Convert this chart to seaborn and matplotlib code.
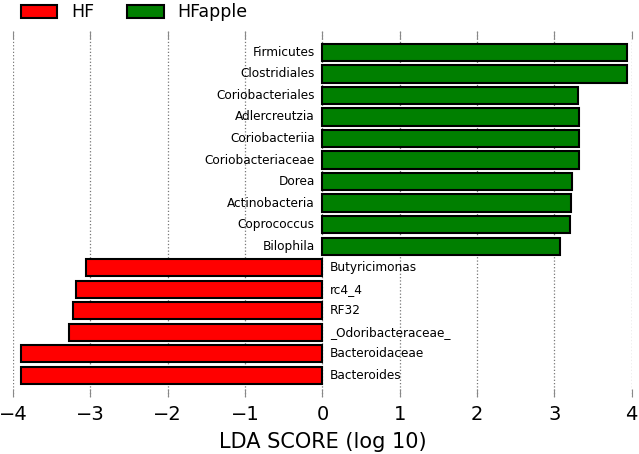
import matplotlib
matplotlib.use('Agg')
from matplotlib import pyplot as plt
from matplotlib.patches import Patch
import seaborn as sns
import pandas as pd

# LEfSe LDA scores, top to bottom
features = ['Firmicutes', 'Clostridiales', 'Coriobacteriales', 'Adlercreutzia',
            'Coriobacteriia', 'Coriobacteriaceae', 'Dorea', 'Actinobacteria',
            'Coprococcus', 'Bilophila', 'Butyricimonas', 'rc4_4', 'RF32',
            '_Odoribacteraceae_', 'Bacteroidaceae', 'Bacteroides']
lda_scores = [3.94, 3.94, 3.31, 3.32, 3.32, 3.32, 3.23, 3.21,
              3.20, 3.07, -3.06, -3.19, -3.22, -3.28, -3.90, -3.90]
groups = ['HFapple'] * 10 + ['HF'] * 6
group_colors = {'HF': '#ff0000', 'HFapple': '#007f00'}

df = pd.DataFrame({'feature': features, 'lda': lda_scores, 'group': groups})

sns.set_style('white', {'text.color': 'black', 'xtick.color': 'black',
                        'axes.labelcolor': 'black'})
plt.rcParams['font.family'] = ['DejaVu Sans']

fig = plt.figure(figsize=(6.39, 4.54), dpi=100)
ax = fig.add_axes([0.0205, 0.126, 0.968, 0.806])

sns.barplot(data=df, x='lda', y='feature', hue='group', palette=group_colors,
            dodge=False, orient='h', width=0.8, edgecolor='black', linewidth=1.5,
            saturation=1, legend=False, ax=ax, zorder=3)

for i, (name, val) in enumerate(zip(features, lda_scores)):
    if val > 0:
        ax.text(-0.1, i, name, ha='right', va='center', fontsize=8.7, color='black')
    else:
        ax.text(0.1, i, name, ha='left', va='center', fontsize=8.7, color='black')

ax.set_xlim(-4.0, 4.0)
ax.set_ylim(16.0, -1.0)
ax.set_yticks([])
ax.set_ylabel('')
ax.set_xticks([-4, -3, -2, -1, 0, 1, 2, 3, 4])
ax.set_xlabel('LDA SCORE (log 10)', fontsize=15, labelpad=6)
ax.tick_params(axis='x', direction='in', length=6, color='#888888', labelsize=14,
               labelcolor='black', top=True, bottom=True, pad=6)
ax.xaxis.grid(True, linestyle=':', color='#777777', linewidth=0.9)
ax.set_axisbelow(True)
for s in ax.spines.values():
    s.set_visible(False)

handles = [Patch(facecolor=group_colors['HF'], edgecolor='black', linewidth=1.5, label='HF'),
           Patch(facecolor=group_colors['HFapple'], edgecolor='black', linewidth=1.5, label='HFapple')]
fig.legend(handles=handles, loc='upper left', bbox_to_anchor=(0.008, 1.027), ncol=2,
           frameon=False, fontsize=12.5, handlelength=2.1, handleheight=0.8,
           columnspacing=1.9, handletextpad=0.8)

plt.savefig('out.png', dpi=100)
